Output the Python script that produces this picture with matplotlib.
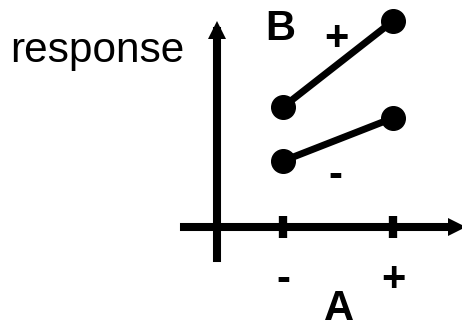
import matplotlib
matplotlib.use("Agg")
import matplotlib.pyplot as plt

plt.rcParams['font.family'] = ['Liberation Sans', 'DejaVu Sans']

# factor A levels and the response for each level of factor B
A_levels = [0, 1]
A_labels = ['-', '+']
resp_B_minus = [6.6, 10.9]
resp_B_plus = [12.0, 20.6]

W, H = 462, 321
fig = plt.figure(figsize=(W / 100, H / 100), dpi=100)
ax = fig.add_axes([0, 0, 1, 1])
ax.set_facecolor('none')

# 110 px per A step, 10 px per response unit, x axis at 227 px from top
ax.set_xlim(-283 / 110, (W - 283) / 110)
ax.set_ylim((227 - H) / 10, 227 / 10)

lw_axis = 5.8
ax.spines['top'].set_visible(False)
ax.spines['right'].set_visible(False)
ax.spines['left'].set_position(('data', (216.5 - 283) / 110))
ax.spines['bottom'].set_position(('data', 0))
ax.spines['left'].set_linewidth(lw_axis)
ax.spines['bottom'].set_linewidth(lw_axis)
ax.spines['left'].set_bounds((227 - 258) / 10, (227 - 31) / 10)
ax.spines['bottom'].set_bounds((184 - 283) / 110, (452 - 283) / 110)

# arrow heads at the ends of both axes
ax.plot([(216.5 - 283) / 110], [(227 - 29.5) / 10], marker='^', ms=12.5,
        mew=0, color='k', clip_on=False)
ax.plot([(457 - 283) / 110], [0], marker='>', ms=12.5,
        mew=0, color='k', clip_on=False)

ax.set_yticks([])
ax.set_xticks(A_levels, A_labels)
ax.tick_params(axis='x', direction='inout', length=16, width=6,
               labelsize=30, pad=15.5)
for t in ax.get_xticklabels():
    t.set_fontweight('bold')

# interaction lines
for resp in (resp_B_plus, resp_B_minus):
    ax.plot(A_levels, resp, color='k', lw=5, marker='o', ms=17,
            solid_capstyle='butt', clip_on=False)

def ftext(x, y, s, size=30, **kw):
    fig.text(x / W, 1 - y / H, s, fontsize=size, va='baseline', **kw)

ftext(10, 62, 'response', size=30.5, ha='left')
ftext(280, 40, 'B', ha='center', fontweight='bold')
ftext(336, 50, '+', ha='center', fontweight='bold')
ftext(335, 187, '-', ha='center', fontweight='bold')
ftext(339, 320, 'A', ha='center', fontweight='bold')

fig.savefig('out.png', dpi=100)
